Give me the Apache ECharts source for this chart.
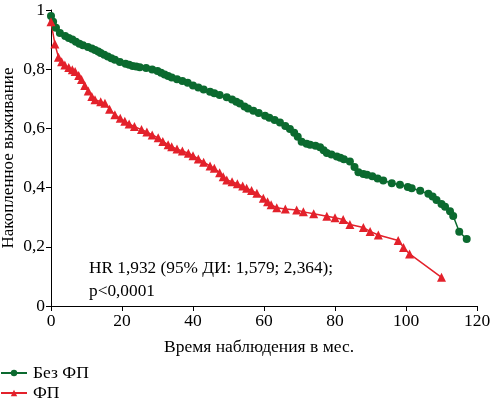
<!DOCTYPE html>
<html><head><meta charset="utf-8">
<script src="https://cdn.jsdelivr.net/npm/echarts@6/dist/echarts.min.js"></script>
<style>html,body{margin:0;padding:0;background:#fff}#c{width:492px;height:404px}</style>
</head><body><div id="c"></div>
<script>
const xTicks = [0, 20, 40, 60, 80, 100, 120];
const yTicks = [0, 0.2, 0.4, 0.6, 0.8, 1];
const seriesNames = ['Без ФП', 'ФП'];
const noAfTime = [0,0.6,1.4,2.5,4,5,6,7,8,9,10.4,11.5,12.4,13.3,14,15,16,17,18,19.4,21,22,23,24,25,26.8,28.5,30,31,32,33,34,35.5,37,38.5,40,41.5,43,44.8,46,47.5,49.5,51,52.2,53.2,54.5,55.5,57,58.5,60.3,61.5,63,64.5,66,67.3,68.5,69.5,70.6,72,73,74.5,75.8,76.8,77.7,79,80.5,81.5,82.5,84.2,85.5,86.6,88,89,90.5,92,93.6,96,98.3,100.5,101.6,104,106.3,107.5,108.6,110,111,112.4,113.3,115,117.1];
const noAfSurv = [0.98,0.96,0.94,0.922,0.912,0.905,0.9,0.893,0.886,0.881,0.875,0.87,0.865,0.86,0.855,0.849,0.843,0.837,0.832,0.824,0.818,0.815,0.811,0.809,0.807,0.804,0.799,0.794,0.788,0.782,0.777,0.772,0.766,0.76,0.754,0.745,0.738,0.731,0.724,0.719,0.713,0.705,0.698,0.69,0.684,0.674,0.667,0.66,0.652,0.643,0.636,0.628,0.62,0.608,0.598,0.585,0.572,0.555,0.548,0.545,0.541,0.536,0.526,0.517,0.512,0.505,0.501,0.496,0.488,0.47,0.452,0.446,0.443,0.438,0.431,0.424,0.415,0.41,0.402,0.398,0.389,0.379,0.37,0.358,0.345,0.335,0.32,0.304,0.251,0.226];
const afTime = [0,1.1,2.1,3,3.9,5,6,6.8,7.8,8.6,9.5,10.5,11.5,12.4,14,15.2,16.5,18,19.5,20.8,22,23.5,25.5,27,28.5,30.2,31.5,33,34,35.5,37,38.7,40,41.5,43,44.8,46,47.5,48.5,49.5,51,52.5,54,55.1,56.5,58,59.8,61,62,63.6,66,69.2,71.1,74,77.7,80,82.3,84.2,88,89.9,92.2,97.8,99.3,101,110];
const afSurv = [0.96,0.885,0.84,0.825,0.814,0.806,0.798,0.792,0.779,0.765,0.745,0.726,0.708,0.697,0.69,0.685,0.665,0.646,0.634,0.624,0.615,0.606,0.596,0.588,0.578,0.568,0.556,0.545,0.538,0.53,0.524,0.516,0.508,0.497,0.486,0.473,0.465,0.45,0.437,0.426,0.42,0.413,0.405,0.398,0.39,0.381,0.364,0.352,0.342,0.332,0.328,0.324,0.318,0.312,0.303,0.298,0.292,0.275,0.265,0.252,0.24,0.221,0.198,0.176,0.097];
const annotLines = ['HR 1,932 (95% ДИ: 1,579; 2,364);', 'p<0,0001'];

const FONT = 'Liberation Serif';
const GREEN = '#0b6a2f', RED = '#e3212b';
const chart = echarts.init(document.getElementById('c'));
const zip = (a, b) => a.map((v, i) => [v, b[i]]);
chart.setOption({
  animation: false,
  textStyle: { fontFamily: FONT, color: '#000' },
  grid: { left: 51, right: 15, top: 10, bottom: 98, containLabel: false, outerBoundsMode: 'none' },
  xAxis: {
    type: 'value', min: 0, max: 120, interval: 20,
    name: 'Время наблюдения в мес.', nameLocation: 'middle', nameGap: 32,
    nameTextStyle: { fontFamily: FONT, fontSize: 17.5, color: '#000', padding: [0, 10, 0, 0] },
    axisLine: { lineStyle: { color: '#000', width: 1 } },
    axisTick: { show: true, length: 5, lineStyle: { color: '#000' } },
    axisLabel: { fontFamily: FONT, fontSize: 17.5, color: '#000', margin: 6,
      formatter: v => xTicks.includes(v) ? String(v) : '' },
    splitLine: { show: false }
  },
  yAxis: {
    type: 'value', min: 0, max: 1, interval: 0.2,
    name: 'Накопленное выживание', nameLocation: 'middle', nameGap: 34, nameRotate: 90,
    nameMoveOverlap: false,
    nameTextStyle: { fontFamily: FONT, fontSize: 17, color: '#000' },
    axisLine: { show: true, lineStyle: { color: '#000', width: 1 } },
    axisTick: { show: true, length: 5, lineStyle: { color: '#000' } },
    axisLabel: { fontFamily: FONT, fontSize: 17.5, color: '#000', margin: 6,
      formatter: v => { const t = yTicks.find(y => Math.abs(y - v) < 1e-9); return t === undefined ? '' : String(+t.toFixed(1)).replace('.', ','); } },
    splitLine: { show: false }
  },
  legend: {
    orient: 'vertical', left: 0, bottom: 2, padding: 0, itemGap: 2, itemWidth: 26, itemHeight: 8,
    textStyle: { fontFamily: FONT, fontSize: 17.5, color: '#000', padding: [0, 0, 0, 1] },
    data: seriesNames
  },
  graphic: [
    { type: 'text', left: 89, top: 257, style: { text: annotLines.join('\n'), fontFamily: FONT, fontSize: 17.3, lineHeight: 23, fill: '#000' } }
  ],
  series: [
    { name: seriesNames[0], type: 'line', data: zip(noAfTime, noAfSurv), symbol: 'circle', symbolSize: 8,
      lineStyle: { color: GREEN, width: 1.5 }, itemStyle: { color: GREEN } },
    { name: seriesNames[1], type: 'line', data: zip(afTime, afSurv), symbol: 'triangle', symbolSize: 9,
      lineStyle: { color: RED, width: 1.5 }, itemStyle: { color: RED } }
  ]
});
</script></body></html>
